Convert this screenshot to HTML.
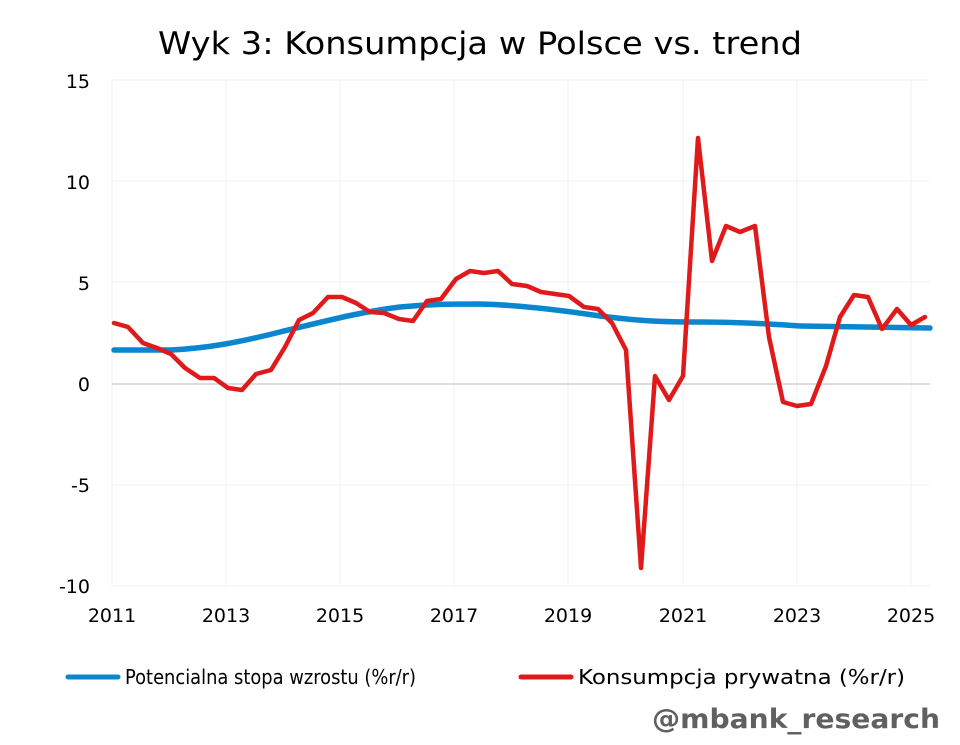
<!DOCTYPE html>
<html><head><meta charset="utf-8"><style>html,body{margin:0;padding:0;background:#fff;}svg{display:block;}</style></head>
<body>
<svg width="960" height="745" xmlns="http://www.w3.org/2000/svg" font-family="DejaVu Sans, Liberation Sans, sans-serif">
<rect width="960" height="745" fill="#fff"/>
<text x="158" y="54" font-size="31" fill="#000" textLength="644" lengthAdjust="spacingAndGlyphs">Wyk 3: Konsumpcja w Polsce vs. trend</text>
<g stroke="#f0f0f0" stroke-width="1">
<line x1="112" y1="80" x2="930" y2="80"/><line x1="112" y1="181" x2="930" y2="181"/><line x1="112" y1="282" x2="930" y2="282"/><line x1="112" y1="485" x2="930" y2="485"/><line x1="112" y1="586" x2="930" y2="586"/>
<line x1="112" y1="80" x2="112" y2="586"/><line x1="226" y1="80" x2="226" y2="586"/><line x1="340" y1="80" x2="340" y2="586"/><line x1="454" y1="80" x2="454" y2="586"/><line x1="568" y1="80" x2="568" y2="586"/><line x1="683" y1="80" x2="683" y2="586"/><line x1="797" y1="80" x2="797" y2="586"/><line x1="911" y1="80" x2="911" y2="586"/>
</g>
<line x1="112" y1="384" x2="930" y2="384" stroke="#c8c8c8" stroke-width="1.2"/>
<g font-size="19" fill="#000" text-anchor="end">
<text x="90" y="88">15</text><text x="90" y="189">10</text><text x="90" y="290">5</text><text x="90" y="391">0</text><text x="90" y="492">-5</text><text x="90" y="593">-10</text>
</g>
<g font-size="19" fill="#000" text-anchor="middle">
<text x="112" y="622">2011</text><text x="226" y="622">2013</text><text x="340" y="622">2015</text><text x="454" y="622">2017</text><text x="568" y="622">2019</text><text x="683" y="622">2021</text><text x="797" y="622">2023</text><text x="911" y="622">2025</text>
</g>
<path d="M114,350 L171,350 C210,348 240,342 280,332 C330,320 360,312 400,307 C430,304 450,304 480,304 C520,305 560,310 600,316 C640,321 660,322 700,322 C740,322 770,324 800,326 C840,327 880,327 930,328" fill="none" stroke="#0a86cf" stroke-width="5.5" stroke-linecap="round"/>
<polyline fill="none" stroke="#e01a1a" stroke-width="4.5" stroke-linejoin="round" stroke-linecap="round" points="114,323 128,327 143,343 157,348 171,354 185,368 200,378 214,378 228,388 242,390 256,374 271,370 285,347 299,320 313,313 328,297 342,297 356,303 370,312 384,313 399,319 413,321 427,301 441,299 456,279 470,271 484,273 498,271 512,284 527,286 541,292 555,294 569,296 584,307 598,309 612,323 626,350 641,568 655,376 669,400 683,376 698,138 712,261 726,226 740,232 755,226 769,337 783,402 797,406 811,404 826,366 840,317 854,295 868,297 882,329 897,309 911,325 925,317"/>
<line x1="68" y1="677" x2="118" y2="677" stroke="#0a86cf" stroke-width="5" stroke-linecap="round"/>
<text x="125" y="684" font-size="20" fill="#000" textLength="291" lengthAdjust="spacingAndGlyphs">Potencialna stopa wzrostu  (%r/r)</text>
<line x1="521" y1="677" x2="571" y2="677" stroke="#e01a1a" stroke-width="5" stroke-linecap="round"/>
<text x="578" y="684" font-size="20" fill="#000" textLength="327" lengthAdjust="spacingAndGlyphs">Konsumpcja prywatna (%r/r)</text>
<text x="652" y="728" font-size="27" font-weight="bold" fill="#606060" textLength="288" lengthAdjust="spacingAndGlyphs">@mbank_research</text>
</svg>
</body></html>
